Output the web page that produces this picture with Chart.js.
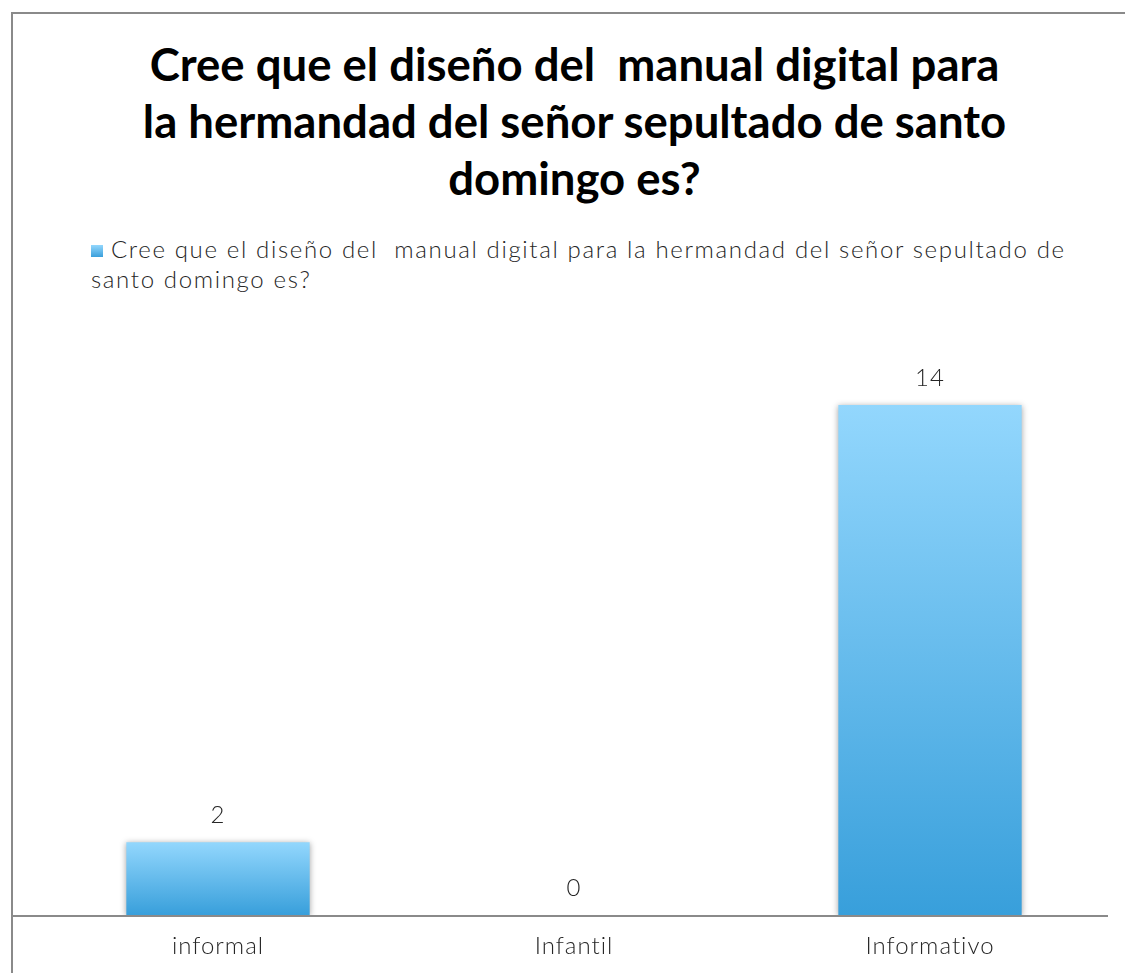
<!DOCTYPE html>
<html>
<head>
<meta charset="utf-8">
<script src="https://cdn.jsdelivr.net/npm/chart.js@4/dist/chart.umd.min.js"></script>
<style>
  html, body { margin: 0; padding: 0; background: #fff; overflow: hidden; }
  #wrap { position: relative; width: 1125px; height: 973px; }
  #frame { position: absolute; left: 11px; top: 12px; width: 1200px; height: 1100px; border: 2px solid #8a8a8a; box-sizing: border-box; }
  #title { position: absolute; left: 0; width: 1149px; top: 35px; text-align: center; font-family: Lato, "Open Sans", sans-serif; font-weight: 700; font-size: 45.5px; line-height: 57px; color: #000; }
  #legend { position: absolute; left: 91px; top: 234px; width: 1010px; font-family: Lato, "Open Sans", sans-serif; font-weight: 300; font-size: 24px; letter-spacing: 1.65px; line-height: 30px; color: #262626; }
  #legend .box { display: inline-block; width: 12px; height: 12px; margin-right: 8px; vertical-align: 1px; background: linear-gradient(#93d7fd, #3a9fdb); }
  canvas { position: absolute; left: 0; top: 0; }
</style>
</head>
<body>
<div id="wrap">
  <div id="frame"></div>
  <div id="title">Cree que el diseño del&nbsp; manual digital para<br>la hermandad del señor sepultado de santo<br>domingo es?</div>
  <div id="legend"><span class="box"></span><span id="legendText"></span></div>
  <canvas id="c" width="1125" height="973"></canvas>
</div>
<script>
// chart data
const seriesName = 'Cree que el diseño del\u00a0 manual digital para la hermandad del señor sepultado de santo domingo es?';
const categories = ['informal', 'Infantil', 'Informativo'];
const values = [2, 0, 14];

document.getElementById('legendText').textContent = seriesName;

const fontFam = 'Lato, "Open Sans", sans-serif';

// bar gradient from light top to darker bottom, per bar
function barGradient(ctx) {
  const chart = ctx.chart;
  const y = chart.scales.y;
  if (!y || ctx.raw === undefined) return '#5bb5ea';
  const top = y.getPixelForValue(ctx.raw);
  const base = y.getPixelForValue(0);
  if (!isFinite(top) || !isFinite(base) || top === base) return '#3a9fdb';
  const g = chart.ctx.createLinearGradient(0, top, 0, base);
  g.addColorStop(0, '#93d7fd');
  g.addColorStop(1, '#389fdb');
  return g;
}

const extras = {
  id: 'extras',
  beforeDraw(chart) {
    chart.ctx.letterSpacing = '1px';
  },
  beforeDatasetsDraw(chart) {
    const ctx = chart.ctx;
    ctx.save();
    ctx.shadowColor = 'rgba(0,0,0,0.35)';
    ctx.shadowBlur = 6;
    ctx.shadowOffsetX = 0;
    ctx.shadowOffsetY = 1;
  },
  afterDatasetsDraw(chart) {
    const ctx = chart.ctx;
    ctx.restore();
    // base line
    const y0 = chart.scales.y.getPixelForValue(0);
    ctx.save();
    ctx.strokeStyle = '#8a8a8a';
    ctx.lineWidth = 2;
    ctx.beginPath();
    ctx.moveTo(12, y0 + 1);
    ctx.lineTo(chart.chartArea.right, y0 + 1);
    ctx.stroke();
    // value labels
    ctx.fillStyle = '#262626';
    ctx.font = '300 24px ' + fontFam;
    ctx.textAlign = 'center';
    ctx.textBaseline = 'middle';
    const meta = chart.getDatasetMeta(0);
    meta.data.forEach((el, i) => {
      ctx.fillText(String(values[i]), el.x, el.y - 27);
    });
    ctx.restore();
  }
};

new Chart(document.getElementById('c'), {
  type: 'bar',
  data: {
    labels: categories,
    datasets: [{
      label: seriesName,
      data: values,
      backgroundColor: barGradient,
      borderWidth: 0,
      categoryPercentage: 1,
      barPercentage: 0.515
    }]
  },
  options: {
    responsive: false,
    animation: false,
    layout: { padding: { top: 332, left: 40, right: 17, bottom: 0 } },
    plugins: {
      legend: { display: false },
      title: { display: false },
      tooltip: { enabled: false }
    },
    scales: {
      x: {
        grid: { display: false, drawTicks: false },
        border: { display: false },
        ticks: { color: '#262626', padding: 17, maxRotation: 0, font: { family: fontFam, size: 24, weight: '300' } },
        afterFit(scale) { scale.height = 58; }
      },
      y: {
        display: false,
        min: 0,
        max: 16
      }
    }
  },
  plugins: [extras]
});
</script>
</body>
</html>
